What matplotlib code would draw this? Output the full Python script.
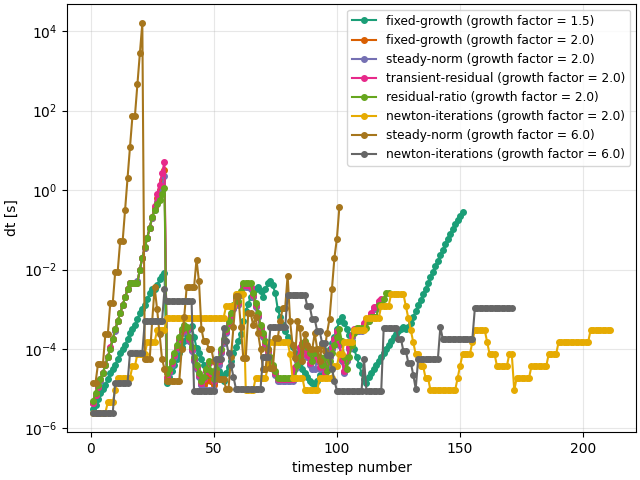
import numpy as np
import matplotlib
matplotlib.use("Agg")
import matplotlib.pyplot as plt
from matplotlib.ticker import NullLocator

# log10(dt) per timestep
fixed_15 = [
    -5.5, -5.4, -5.25, -5.1, -5.0, -4.9, -4.75, -4.6, -4.5, -4.4,
    -4.25, -4.1, -4.0, -3.9, -3.75, -3.6, -3.5, -3.4, -3.25, -3.1,
    -3.0, -2.9, -2.75, -2.6, -2.5, -2.5, -2.4, -2.25, -2.15, -2.08,
    -4.86, -4.7, -4.55, -4.4, -4.25, -4.1, -3.95, -3.8, -3.65, -3.5,
    -3.42, -3.7, -3.97, -4.1, -4.25, -4.4, -4.55, -4.7, -4.8, -4.85,
    -4.7, -4.55, -4.65, -4.8, -4.6, -4.45, -4.3, -4.1, -3.95, -3.8,
    -3.62, -3.3, -3.05, -2.86, -2.7, -2.6, -2.5, -2.45, -2.55, -2.7,
    -2.5, -2.35, -2.28, -2.4, -2.6, -3.0, -3.2, -3.4, -3.55, -3.7,
    -3.85, -3.95, -4.1, -4.2, -4.35, -4.5, -4.6, -4.7, -4.8, -4.86,
    -4.95, -4.8, -4.65, -4.5, -4.3, -4.15, -4.0, -3.85, -3.7, -3.5,
    -3.3, -3.2, -3.35, -3.5, -3.65, -3.8, -4.0, -4.2, -4.4, -4.6,
    -4.75, -4.86, -4.7, -4.6, -4.5, -4.4, -4.3, -4.2, -4.1, -4.0,
    -3.9, -3.8, -3.7, -3.62, -3.55, -3.5, -3.45, -3.5, -3.45, -3.35,
    -3.2, -3.04, -2.9, -2.76, -2.62, -2.48, -2.34, -2.2, -2.06, -1.92,
    -1.78, -1.64, -1.5, -1.36, -1.22, -1.1, -0.98, -0.86, -0.74, -0.64,
    -0.55,
]

fixed_20 = [
    -5.35, -5.15, -4.95, -4.78, -4.6, -4.4, -4.2, -3.98, -3.75, -3.52,
    -3.3, -3.1, -2.9, -2.7, -2.5, -2.34, -2.34, -2.34, -2.32, -2.0,
    -1.7, -1.45, -1.2, -0.95, -0.7, -0.45, -0.2, 0.0, 0.25, 0.5,
    -4.72, -4.57, -4.37, -4.17, -3.97, -3.77, -3.57, -3.47, -3.52, -3.77,
    -4.02, -4.27, -4.47, -4.67, -4.87, -4.9, -4.8, -4.6, -4.8, -4.9,
    -4.6, -4.35, -4.08, -3.82, -3.57, -3.37, -3.17, -2.97, -2.77, -2.87,
    -2.62, -2.42, -2.42, -2.42, -2.47, -2.67, -2.92, -3.17, -3.47, -3.67,
    -3.87, -4.07, -4.27, -4.47, -4.62, -4.77, -4.77, -4.77, -4.77, -4.77,
    -4.77, -4.77, -4.47, -4.27, -3.97, -3.87, -4.02, -4.17, -4.37, -4.3,
    -4.25, -4.27, -4.47, -4.27, -4.62, -4.37, -4.17, -3.97, -3.77, -3.57,
    -3.87, -4.27, -4.57, -4.27, -3.97, -3.67, -3.52, -3.52, -3.52, -3.52,
    -3.37, -3.27, -3.27, -3.12, -2.97, -2.97, -2.82, -2.77,
]

steady_20 = [
    -5.35, -5.15, -4.95, -4.8, -4.6, -4.4, -4.2, -4.0, -3.75, -3.55,
    -3.3, -3.1, -2.9, -2.7, -2.5, -2.35, -2.35, -2.35, -2.3, -2.0,
    -1.7, -1.45, -1.2, -0.95, -0.7, -0.5, -0.3, -0.1, 0.1, 0.35,
    -4.75, -4.6, -4.4, -4.2, -4.0, -3.8, -3.6, -3.5, -3.55, -3.8,
    -4.05, -4.3, -4.5, -4.7, -4.9, -5.04, -5.04, -5.04, -5.04, -5.04,
    -4.7, -4.4, -4.1, -3.85, -3.6, -3.4, -3.2, -3.0, -2.8, -2.9,
    -2.65, -2.45, -2.45, -2.45, -2.5, -2.7, -2.95, -3.2, -3.5, -3.7,
    -3.9, -4.1, -4.3, -4.5, -4.65, -4.8, -4.8, -4.8, -4.8, -4.8,
    -4.8, -4.8, -4.5, -4.3, -4.0, -3.9, -4.05, -4.2, -4.4, -4.5,
    -4.5, -4.3, -4.5, -4.3, -4.65, -4.4, -4.2, -4.0, -3.8, -3.6,
    -3.9, -4.3, -4.6, -4.3, -4.0, -3.7, -3.55, -3.55, -3.55, -3.55,
    -3.4, -3.3, -3.3, -3.15, -3.0, -3.0, -2.85, -2.8,
]

transient_20 = [
    -5.35, -5.15, -4.95, -4.75, -4.6, -4.4, -4.2, -3.95, -3.75, -3.5,
    -3.3, -3.1, -2.9, -2.7, -2.5, -2.33, -2.33, -2.33, -2.33, -2.0,
    -1.7, -1.44, -1.2, -0.95, -0.68, -0.4, -0.1, 0.13, 0.43, 0.7,
    -4.7, -4.55, -4.35, -4.15, -3.95, -3.75, -3.55, -3.45, -3.5, -3.75,
    -4.0, -4.25, -4.45, -4.65, -4.85, -4.75, -4.55, -4.35, -4.6, -4.8,
    -4.55, -4.3, -4.05, -3.8, -3.55, -3.35, -3.15, -2.95, -2.75, -2.85,
    -2.6, -2.4, -2.4, -2.4, -2.45, -2.65, -2.9, -3.15, -3.45, -3.65,
    -3.85, -4.05, -4.25, -4.45, -4.6, -4.75, -4.75, -4.75, -4.75, -4.75,
    -4.75, -4.75, -4.45, -4.25, -3.95, -3.85, -4.0, -4.15, -4.35, -4.15,
    -4.05, -4.25, -4.45, -4.25, -4.6, -4.35, -4.15, -3.95, -3.75, -3.55,
    -3.85, -4.25, -4.55, -4.25, -3.95, -3.65, -3.5, -3.5, -3.5, -3.5,
    -3.35, -3.25, -3.25, -3.1, -2.95, -2.95, -2.8, -2.75,
]

residual_20 = [
    -5.3, -5.1, -4.9, -4.75, -4.6, -4.4, -4.2, -4.0, -3.75, -3.5,
    -3.3, -3.1, -2.9, -2.7, -2.5, -2.33, -2.33, -2.33, -2.33, -2.0,
    -1.7, -1.44, -1.2, -0.95, -0.68, -0.5, -0.35, -0.25, -0.1, 0.05,
    -4.6, -4.5, -4.3, -4.1, -3.9, -3.7, -3.5, -3.4, -3.45, -3.7,
    -3.95, -4.2, -4.4, -4.6, -4.8, -4.7, -4.5, -4.3, -4.55, -4.75,
    -4.5, -4.25, -4.0, -3.75, -3.5, -3.3, -3.1, -2.9, -2.7, -2.8,
    -2.55, -2.35, -2.35, -2.35, -2.35, -2.6, -2.85, -3.1, -3.4, -3.6,
    -3.8, -4.0, -4.2, -4.4, -4.55, -4.73, -4.73, -4.73, -4.73, -4.73,
    -4.73, -4.73, -4.73, -4.4, -4.2, -3.9, -3.8, -3.95, -4.1, -4.3,
    -4.1, -4.0, -4.2, -4.4, -4.2, -4.55, -4.3, -4.1, -3.9, -3.7,
    -3.5, -3.8, -4.2, -4.5, -4.2, -3.9, -3.6, -3.47, -3.47, -3.47,
    -3.47, -3.47, -3.3, -3.2, -3.2, -3.2, -2.9, -2.9, -2.75, -2.6,
    -2.6,
]

newton_20 = [
    -5.6, -5.6, -5.6, -5.6, -5.6, -5.6, -5.34, -5.34, -5.34, -5.04,
    -4.73, -4.73, -4.73, -4.73, -4.73, -4.73, -4.43, -4.43, -4.13, -4.13,
    -4.13, -4.13, -3.83, -3.83, -3.83, -3.83, -3.52, -3.52, -3.52, -3.52,
    -3.22, -3.22, -3.22, -3.22, -3.22, -3.22, -3.22, -3.22, -3.22, -3.22,
    -3.22, -3.22, -3.22, -3.22, -3.22, -3.22, -3.22, -3.22, -3.22, -3.22,
    -3.22, -3.22, -3.22, -3.22, -2.92, -2.92, -2.92, -2.92, -2.62, -2.62,
    -2.62, -2.62, -5.04, -5.04, -5.04, -5.04, -4.73, -4.73, -4.73, -4.73,
    -4.73, -4.43, -3.83, -3.83, -3.83, -3.83, -3.83, -3.83, -3.83, -3.83,
    -4.13, -4.73, -4.73, -4.73, -4.73, -4.73, -5.04, -5.04, -5.04, -5.04,
    -5.04, -5.04, -4.73, -4.73, -4.73, -4.73, -4.73, -4.73, -4.43, -4.43,
    -4.13, -4.13, -3.83, -3.83, -3.83, -3.83, -3.52, -3.52, -3.52, -3.52,
    -3.52, -3.22, -3.22, -3.22, -3.22, -3.22, -3.22, -2.92, -2.92, -2.92,
    -2.92, -2.62, -2.62, -2.62, -2.62, -2.62, -2.62, -2.92, -3.22, -3.52,
    -3.83, -4.13, -4.13, -4.43, -4.43, -4.73, -4.73, -5.04, -5.04, -5.04,
    -5.04, -5.04, -5.04, -5.04, -5.04, -5.04, -5.04, -5.04, -4.73, -4.43,
    -4.13, -4.13, -4.13, -4.13, -3.83, -3.52, -3.52, -3.52, -3.52, -3.52,
    -3.83, -4.13, -4.13, -4.13, -4.43, -4.43, -4.43, -4.43, -4.43, -4.13,
    -4.13, -5.04, -4.73, -4.73, -4.73, -4.73, -4.73, -4.73, -4.43, -4.43,
    -4.43, -4.43, -4.43, -4.43, -4.43, -4.13, -4.13, -4.13, -4.13, -3.83,
    -3.83, -3.83, -3.83, -3.83, -3.83, -3.83, -3.83, -3.83, -3.83, -3.83,
    -3.83, -3.83, -3.52, -3.52, -3.52, -3.52, -3.52, -3.52, -3.52, -3.52,
    -3.52,
]

steady_60 = [
    -4.85, -4.85, -4.38, -4.38, -4.38, -3.62, -3.62, -2.84, -2.84, -2.05,
    -2.05, -1.29, -1.29, -0.5, 0.3, 1.09, 1.87, 1.87, 2.66, 3.44,
    4.2,
    -4.25, -4.25, -4.25, -3.3, -2.45, -3.0, -3.62, -4.25, -4.5, -4.8,
    -4.8, -4.8, -4.8, -4.8, -4.8, -4.0, -3.2, -2.45, -2.45, -2.45,
    -2.45, -1.75, -2.3, -3.5, -3.8, -3.8, -4.0, -4.0, -4.3, -4.6,
    -4.75, -4.75, -4.75, -5.0, -5.0, -4.2, -3.45, -2.66, -2.66, -3.45,
    -4.23, -4.23, -3.1, -3.1, -3.4, -3.2, -3.6, -4.0, -4.5, -4.5,
    -4.0, -4.48, -4.48, -3.72, -3.72, -3.3, -2.96, -2.96, -2.15, -3.3,
    -3.9, -4.23, -3.3, -3.47, -4.3, -3.62, -3.9, -4.0, -4.0, -3.6,
    -4.0, -4.3, -3.9, -4.05, -3.6, -3.24, -2.48, -1.7, -1.22, -0.43,
]

newton_60 = [
    -5.6, -5.6, -5.6, -5.6, -5.6, -5.6, -5.6, -5.6, -5.6, -4.85,
    -4.85, -4.85, -4.85, -4.85, -4.85, -4.1, -4.1, -4.1, -4.1, -4.1,
    -4.1, -3.3, -3.3, -3.3, -3.3, -3.3, -3.3, -3.3, -3.3, -2.5,
    -2.8, -2.8, -2.8, -2.8, -2.8, -2.8, -2.8, -2.8, -2.8, -2.8,
    -2.8, -5.05, -5.05, -5.05, -5.05, -5.05, -5.05, -5.05, -5.05, -5.05,
    -4.25, -4.25, -4.25, -3.47, -3.8, -4.1, -4.4, -4.7, -5.0, -5.0,
    -5.0, -5.0, -5.0, -5.0, -5.0, -5.0, -5.0, -5.0, -5.0, -4.2,
    -4.2, -4.2, -3.45, -3.45, -3.45, -3.45, -3.45, -3.45, -3.45, -2.64,
    -2.64, -2.64, -2.64, -2.64, -2.64, -2.64, -2.64, -2.93, -2.93, -3.25,
    -3.25, -3.55, -3.55, -3.85, -3.85, -4.15, -4.15, -4.5, -4.8, -5.05,
    -5.05, -5.05, -5.05, -5.05, -5.05, -5.05, -5.05, -5.05, -5.05, -5.05,
    -4.25, -5.05, -5.05, -5.05, -5.05, -5.05, -5.05, -5.05, -3.47, -3.47,
    -3.47, -3.47, -3.47, -3.47, -3.75, -3.75, -4.05, -4.05, -4.35, -4.35,
    -4.65, -5.0, -4.25, -4.25, -4.25, -4.25, -4.25, -4.25, -4.25, -4.25,
    -4.25, -3.45, -3.75, -3.75, -3.75, -3.75, -3.75, -3.75, -3.75, -3.75,
    -3.75, -3.75, -3.75, -3.75, -3.75, -2.98, -2.98, -2.98, -2.98, -2.98,
    -2.98, -2.98, -2.98, -2.98, -2.98, -2.98, -2.98, -2.98, -2.98, -2.98,
    -2.98,
]

labels = [
    "fixed-growth (growth factor = 1.5)",
    "fixed-growth (growth factor = 2.0)",
    "steady-norm (growth factor = 2.0)",
    "transient-residual (growth factor = 2.0)",
    "residual-ratio (growth factor = 2.0)",
    "newton-iterations (growth factor = 2.0)",
    "steady-norm (growth factor = 6.0)",
    "newton-iterations (growth factor = 6.0)",
]
series = [fixed_15, fixed_20, steady_20, transient_20, residual_20,
          newton_20, steady_60, newton_60]
ytick_vals = [1e-6, 1e-4, 1e-2, 1e0, 1e2, 1e4]

colors = plt.get_cmap("Dark2").colors

fig, ax = plt.subplots(figsize=(6.4, 4.8), dpi=100)
for i, (lab, vals) in enumerate(zip(labels, series)):
    steps = np.arange(1, len(vals) + 1)
    dt = 10.0 ** np.array(vals)
    ax.plot(steps, dt, marker="o", markersize=4, linewidth=1.5,
            color=colors[i], label=lab)

ax.set_yscale("log")
ax.set_yticks(ytick_vals)
ax.yaxis.set_minor_locator(NullLocator())
ax.set_xlabel("timestep number")
ax.set_ylabel("dt [s]")
ax.grid(True, alpha=0.3)
ax.legend(loc="upper right", fontsize=8.7)
fig.subplots_adjust(left=0.105, right=0.994, top=0.992, bottom=0.1)
fig.savefig("out.png")
